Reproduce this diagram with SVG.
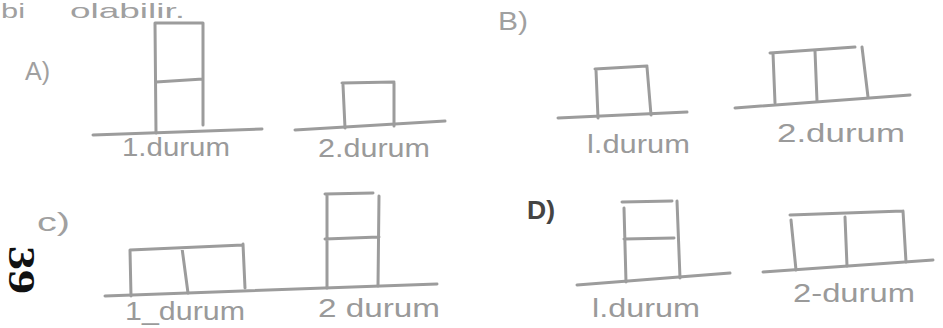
<svg xmlns="http://www.w3.org/2000/svg" width="943" height="328" viewBox="0 0 943 328">
<style>
.ln{stroke:#9c9c9c;stroke-width:3;stroke-linecap:round;fill:none}
.hw{font-family:"Liberation Sans","DejaVu Sans",sans-serif;fill:#9a9a9a;font-size:26px}
.lbl{font-family:"Liberation Sans","DejaVu Sans",sans-serif;fill:#a0a0a0;font-size:26px}
</style>
<rect width="943" height="328" fill="#ffffff"/>
<g id="header">
<text x="1" y="18" font-family="Liberation Sans,sans-serif" font-size="21" fill="#a0a0a0" textLength="24" lengthAdjust="spacingAndGlyphs">bi</text>
<text x="70" y="18" font-family="Liberation Sans,sans-serif" font-size="21" fill="#a0a0a0" textLength="115" lengthAdjust="spacingAndGlyphs">olabilir.</text>
<text transform="translate(9,246) rotate(90)" font-family="Liberation Serif,serif" font-weight="bold" font-size="38" fill="#111" textLength="48" lengthAdjust="spacingAndGlyphs">39</text>
</g>
<g id="optionA">
<text class="lbl" x="25" y="80" textLength="25" lengthAdjust="spacingAndGlyphs">A)</text>
<g id="A1" class="ln">
<path d="M93,135 L262,129"/>
<path d="M155,23 L156,133 M203,23 L203,125 M155,23 L203,23 M156,82 L203,79"/>
</g>
<text class="hw" x="122" y="156" textLength="108" lengthAdjust="spacingAndGlyphs">1.durum</text>
<g id="A2" class="ln">
<path d="M295,130 L445,121"/>
<path d="M343,85 L345,128 M394,83 L394,126 M342,83 L394,82"/>
</g>
<text class="hw" x="318" y="157" textLength="112" lengthAdjust="spacingAndGlyphs">2.durum</text>
</g>
<g id="optionB">
<text class="lbl" x="498" y="30" textLength="30" lengthAdjust="spacingAndGlyphs">B)</text>
<g id="B1" class="ln">
<path d="M558,118 L687,112"/>
<path d="M596,70 L598,118 M647,67 L651,115 M595,69 L647,66"/>
</g>
<text class="hw" x="587" y="153" textLength="103" lengthAdjust="spacingAndGlyphs">l.durum</text>
<g id="B2" class="ln">
<path d="M735,108 L910,95"/>
<path d="M773,53 L775,103 M815,51 L817,101 M862,47 L868,97 M770,53 L855,47"/>
</g>
<text class="hw" x="777" y="142" textLength="128" lengthAdjust="spacingAndGlyphs">2.durum</text>
</g>
<g id="optionC">
<text class="lbl" x="37" y="231" textLength="33" lengthAdjust="spacingAndGlyphs">c)</text>
<g id="C-base" class="ln"><path d="M105,296 L437,284"/></g>
<g id="C1" class="ln">
<path d="M130,250 L131,296 M182,248 L188,293 M243,244 L245,288 M130,250 L243,245"/>
</g>
<text class="hw" x="125" y="320" textLength="120" lengthAdjust="spacingAndGlyphs">1_durum</text>
<g id="C2" class="ln">
<path d="M327,195 L327,288 M379,196 L378,286 M325,194 L373,193 M325,239 L379,237"/>
</g>
<text class="hw" x="318" y="317" textLength="122" lengthAdjust="spacingAndGlyphs">2 durum</text>
</g>
<g id="optionD">
<text x="527" y="219" font-family="Liberation Sans,sans-serif" font-weight="bold" font-size="25" fill="#444" textLength="28" lengthAdjust="spacingAndGlyphs">D)</text>
<g id="D1" class="ln">
<path d="M577,285 L730,273"/>
<path d="M624,208 L626,282 M677,201 L680,278 M622,202 L672,201 M624,239 L674,238"/>
</g>
<text class="hw" x="592" y="317" textLength="108" lengthAdjust="spacingAndGlyphs">l.durum</text>
<g id="D2" class="ln">
<path d="M763,272 L933,260"/>
<path d="M791,220 L796,270 M845,217 L847,266 M903,211 L906,262 M790,215 L903,211"/>
</g>
<text class="hw" x="793" y="302" textLength="122" lengthAdjust="spacingAndGlyphs">2-durum</text>
</g>
</svg>
